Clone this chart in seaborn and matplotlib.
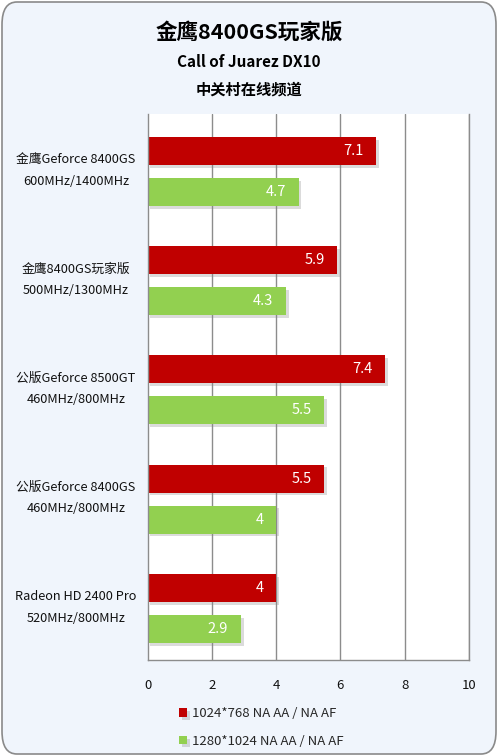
import matplotlib
matplotlib.use("Agg")
import matplotlib.pyplot as plt
import matplotlib.patheffects as pe
from matplotlib.patches import FancyBboxPatch
from matplotlib.transforms import blended_transform_factory
import pandas as pd
import seaborn as sns

# chart data
cards = [
    "金鹰Geforce 8400GS\n600MHz/1400MHz",
    "金鹰8400GS玩家版\n500MHz/1300MHz",
    "公版Geforce 8500GT\n460MHz/800MHz",
    "公版Geforce 8400GS\n460MHz/800MHz",
    "Radeon HD 2400 Pro\n520MHz/800MHz",
]
series_names = ["1024*768 NA AA / NA AF", "1280*1024 NA AA / NA AF"]
fps_1024 = [7.1, 5.9, 7.4, 5.5, 4]
fps_1280 = [4.7, 4.3, 5.5, 4, 2.9]
x_ticks = [0, 2, 4, 6, 8, 10]

title = "金鹰8400GS玩家版"
subtitle = "Call of Juarez DX10"
source = "中关村在线频道"

colors = ["#C00000", "#92D050"]
bg = "#F0F5FC"

df = pd.DataFrame({
    "card": cards * 2,
    "series": [series_names[0]] * len(cards) + [series_names[1]] * len(cards),
    "value": fps_1024 + fps_1280,
})

sns.set_theme(style="white")
plt.rcParams["font.family"] = ["Noto Sans CJK SC", "DejaVu Sans"]

W, H = 498, 756
fig = plt.figure(figsize=(W / 100, H / 100), dpi=100)
fig.patch.set_facecolor("white")

# rounded panel behind everything
panel = FancyBboxPatch((2 / W, 2 / H), (W - 4) / W, (H - 4) / H,
                       boxstyle="round,pad=0,rounding_size=0.03",
                       transform=fig.transFigure, facecolor=bg,
                       edgecolor="#8a8a8a", linewidth=1.2, zorder=-5)
fig.patches.append(panel)

left, right, top, bottom = 147.5, 469, 114, 660
ax = fig.add_axes([left / W, 1 - bottom / H, (right - left) / W, (bottom - top) / H])
ax.set_facecolor("white")

sns.barplot(data=df, y="card", x="value", hue="series", palette=colors,
            orient="h", width=0.75, gap=0.317, saturation=1, ax=ax,
            legend=True)

shadow = [pe.SimplePatchShadow(offset=(2, -2), shadow_rgbFace="#888888", alpha=0.3),
          pe.Normal()]
for bar in ax.patches:
    bar.set_path_effects(shadow)
    bar.set_linewidth(0)

for cont in ax.containers:
    labs = ax.bar_label(cont, labels=[f"{v:g}" for v in cont.datavalues],
                        padding=-9, color="white", fontsize=10.5)
    for t in labs:
        t.set_horizontalalignment("right")

ax.set_xlim(0, 10)
ax.set_ylim(4.473, -0.527)
ax.set_xticks(x_ticks)
ax.set_xticklabels([str(v) for v in x_ticks], fontsize=9.5, color="#111111")
ax.tick_params(axis="x", length=0, pad=14)
ax.set_yticks(range(len(cards)))
ax.set_yticklabels([""] * len(cards))
ax.tick_params(axis="y", length=0)
ax.set_xlabel("")
ax.set_ylabel("")

for x in x_ticks[1:]:
    ax.axvline(x, color="#8c8c8c", lw=1, zorder=0)
for side in ["left", "bottom", "right"]:
    ax.spines[side].set_color("#8c8c8c")
    ax.spines[side].set_linewidth(1)
ax.spines["top"].set_visible(False)

# category labels centred in left panel
trans = blended_transform_factory(fig.transFigure, ax.transData)
for i, name in enumerate(cards):
    ax.text(76 / W, i - 0.01, name, transform=trans, ha="center", va="center",
            fontsize=9.2, color="#111111", linespacing=1.85, multialignment="center")

handles, labels = ax.get_legend_handles_labels()
ax.legend(handles, labels, loc="upper left", bbox_to_anchor=(174 / W, 1 - 702 / H),
          bbox_transform=fig.transFigure, frameon=False, fontsize=9.5,
          handlelength=0.6, handleheight=0.6, handletextpad=0.4,
          labelspacing=1.1, borderaxespad=0)

fig.text(0.5, 1 - 32 / H, title, ha="center", va="center", fontsize=15.5,
         fontweight="bold", color="black")
fig.text(0.5, 1 - 62 / H, subtitle, ha="center", va="center", fontsize=11,
         fontweight="bold", color="black")
fig.text(0.5, 1 - 90 / H, source, ha="center", va="center", fontsize=11,
         fontweight="bold", color="black")

fig.savefig("out.png", dpi=100, facecolor=fig.get_facecolor())
